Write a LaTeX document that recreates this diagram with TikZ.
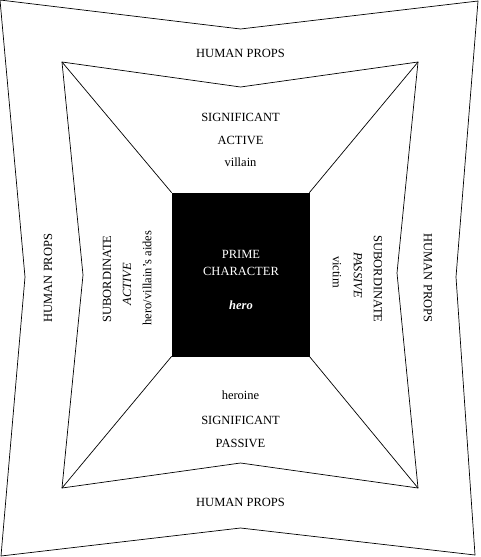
\documentclass[tikz,border=0pt]{standalone}
\usepackage{fontspec}
\setmainfont{Liberation Serif}
\begin{document}
\begin{tikzpicture}[x=1pt,y=-1pt,line width=0.7pt,line join=miter,
  lbl/.style={font=\fontsize{12.5}{14}\selectfont,inner sep=0pt},
  wlbl/.style={lbl,text=white},
  primebox/.style={draw=black,fill=black,minimum width=137pt,minimum height=163pt,inner sep=0pt}]
\useasboundingbox (0,0) rectangle (481,557);
% outer frame
\coordinate (otl) at (0,0);
\coordinate (otm) at (240.5,29);
\coordinate (otr) at (478,1);
\coordinate (orm) at (456,277);
\coordinate (obr) at (475,555);
\coordinate (obm) at (240.5,528);
\coordinate (obl) at (1,556);
\coordinate (olm) at (25,277);
\draw (otl) -- (otm) -- (otr) -- (orm) -- (obr) -- (obm) -- (obl) -- (olm) -- cycle;
% inner frame
\coordinate (itl) at (62,62);
\coordinate (itm) at (240.5,87);
\coordinate (itr) at (418,62);
\coordinate (irm) at (397,273);
\coordinate (ibr) at (418,488);
\coordinate (ibm) at (240.5,463);
\coordinate (ibl) at (62,488);
\coordinate (ilm) at (83,275);
\draw (itl) -- (itm) -- (itr) -- (irm) -- (ibr) -- (ibm) -- (ibl) -- (ilm) -- cycle;
% prime character box
\node[primebox] (prime) at (240.5,274.5) {};
\draw (itl) -- (prime.north west);
\draw (itr) -- (prime.north east);
\draw (ibl) -- (prime.south west);
\draw (ibr) -- (prime.south east);
\node[wlbl] (p1) at (241,254) {PRIME};
\node[wlbl] (p2) at (241,271) {CHARACTER};
\node[wlbl] (p3) at (241,305) {\textbf{\textit{hero}}};
% human props
\node[lbl] (hpt) at (240.5,53) {HUMAN PROPS};
\node[lbl] (hpb) at (240.5,502) {HUMAN PROPS};
\node[lbl,rotate=90] (hpl) at (48,278) {HUMAN PROPS};
\node[lbl,rotate=-90] (hpr) at (428,278) {HUMAN PROPS};
% top
\node[lbl] (t1) at (240.5,117) {SIGNIFICANT};
\node[lbl] (t2) at (240.5,140) {ACTIVE};
\node[lbl] (t3) at (240.5,162) {villain};
% bottom
\node[lbl] (b1) at (240.5,395) {heroine};
\node[lbl] (b2) at (240.5,420) {SIGNIFICANT};
\node[lbl] (b3) at (240.5,443) {PASSIVE};
% left
\node[lbl,rotate=90] (l1) at (107,279) {SUBORDINATE};
\node[lbl,rotate=90] (l2) at (127,284) {\textit{ACTIVE}};
\node[lbl,rotate=90] (l3) at (147,278) {hero/villain's aides};
% right
\node[lbl,rotate=-90] (r1) at (378,279) {SUBORDINATE};
\node[lbl,rotate=-90] (r2) at (358,275) {\textit{PASSIVE}};
\node[lbl,rotate=-90] (r3) at (337,272) {victim};
\end{tikzpicture}
\end{document}
